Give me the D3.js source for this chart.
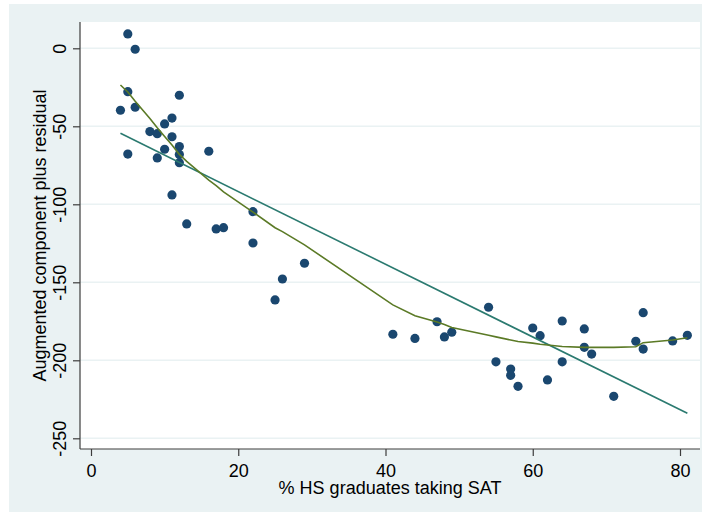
<!DOCTYPE html>
<html>
<head>
<meta charset="utf-8">
<script src="https://cdn.jsdelivr.net/npm/d3@7"></script>
<style>
  body { margin: 0; background: #ffffff; }
  svg text { font-family: "Liberation Sans", Arial, sans-serif; fill: #000; }
</style>
</head>
<body>
<div id="chart"></div>
<script>
// % HS graduates taking SAT
const pctSat = [5, 6, 5, 12, 4, 6, 11, 10, 8, 9, 11, 12, 10, 12, 5, 9, 12, 16, 11,
  22, 13, 17, 18, 22, 29, 26, 25,
  41, 44, 47, 48, 49, 54, 55, 57, 57, 58, 60, 61, 62,
  64, 64, 67, 67, 68, 71, 74, 75, 75, 79, 81];
// augmented component plus residual
const cpr = [9.2, -0.6, -27.8, -30.1, -39.7, -37.8, -44.7, -48.5, -53.4, -54.7, -56.7, -63, -64.7, -68, -67.8, -70.3, -73.3, -66, -94,
  -104.7, -112.6, -115.8, -115, -124.8, -137.8, -147.9, -161.3,
  -183.3, -186, -175.3, -185, -182, -166, -201, -205.6, -209.6, -216.7, -179.3, -184.2, -212.6,
  -174.8, -201, -179.9, -191.7, -196, -223.1, -187.8, -169.5, -192.8, -187.6, -184];

// linear fit
const fitX = [4, 81];
const fitY = [-54.5, -234];

// lowess smooth
const lowX = [4, 5, 6, 8, 9, 10, 11, 12, 13, 16, 17, 18, 22, 25, 26, 29, 41, 44, 47, 48, 49,
  54, 55, 57, 58, 60, 61, 62, 64, 67, 68, 71, 74, 75, 79, 81];
const lowY = [-23.5, -28, -34, -45, -51, -56.5, -62, -68, -72.5, -84.5, -88, -92, -105, -115, -117.5, -126,
  -164.5, -171.5, -175.5, -177, -179, -184, -185, -187, -188, -189, -189.7, -190.2, -191.2,
  -191.7, -191.7, -191.7, -191.3, -188.7, -187, -185.5];

const xTicks = [0, 20, 40, 60, 80];
const yTicks = [0, -50, -100, -150, -200, -250];

const width = 709, height = 515;
const plot = {left: 80, right: 700, top: 22, bottom: 449};

const svg = d3.select('#chart').append('svg')
  .attr('width', width)
  .attr('height', height);

// outer graph region
svg.append('rect')
  .attr('x', 9).attr('y', 4)
  .attr('width', 693).attr('height', 508)
  .attr('fill', '#eaf2f3');

// plot region
svg.append('rect')
  .attr('x', plot.left).attr('y', plot.top)
  .attr('width', plot.right - plot.left).attr('height', plot.bottom - plot.top)
  .attr('fill', '#ffffff');

const x = d3.scaleLinear().domain([0, 80]).range([91, 680]);
const y = d3.scaleLinear().domain([0, -250]).range([48.3, 438.3]);

// gridlines
svg.append('g')
  .selectAll('line')
  .data(yTicks)
  .enter()
  .append('line')
  .attr('x1', plot.left).attr('x2', plot.right)
  .attr('y1', d => y(d)).attr('y2', d => y(d))
  .attr('stroke', '#eaf2f3')
  .attr('stroke-width', 1.5);

// axes
const yAxis = svg.append('g')
  .attr('transform', 'translate(' + plot.left + ',0)')
  .call(d3.axisLeft(y).tickValues(yTicks).tickSize(7).tickPadding(0).tickFormat(d => String(d)));

yAxis.select('.domain')
  .attr('d', 'M0,' + plot.top + 'V' + plot.bottom);

yAxis.selectAll('.tick text')
  .attr('x', null).attr('dy', null)
  .attr('text-anchor', 'middle')
  .attr('transform', 'translate(-14,0) rotate(-90)')
  .style('font-size', '18px');

const xAxis = svg.append('g')
  .attr('transform', 'translate(0,' + plot.bottom + ')')
  .call(d3.axisBottom(x).tickValues(xTicks).tickSize(7).tickPadding(0));

xAxis.select('.domain')
  .attr('d', 'M' + plot.left + ',0H' + plot.right);

xAxis.selectAll('.tick text')
  .attr('y', 28).attr('dy', null)
  .style('font-size', '18px');

svg.selectAll('.domain, .tick line')
  .attr('stroke', '#3c3c3c')
  .attr('stroke-width', 1.2);

// axis titles
svg.append('text')
  .attr('x', (plot.left + plot.right) / 2)
  .attr('y', 494)
  .attr('text-anchor', 'middle')
  .style('font-size', '18px')
  .text('% HS graduates taking SAT');

svg.append('text')
  .attr('transform', 'translate(46,' + ((plot.top + plot.bottom) / 2) + ') rotate(-90)')
  .attr('text-anchor', 'middle')
  .style('font-size', '18px')
  .text('Augmented component plus residual');

// points
svg.append('g')
  .selectAll('circle')
  .data(pctSat)
  .enter()
  .append('circle')
  .attr('cx', d => x(d))
  .attr('cy', (d, i) => y(cpr[i]))
  .attr('r', 4.6)
  .attr('fill', '#1a476f');

const line = d3.line()
  .x(d => x(d[0]))
  .y(d => y(d[1]));

svg.append('path')
  .datum(fitX.map((d, i) => [d, fitY[i]]))
  .attr('fill', 'none')
  .attr('stroke', '#2b7a70')
  .attr('stroke-width', 1.6)
  .attr('d', line);

svg.append('path')
  .datum(lowX.map((d, i) => [d, lowY[i]]))
  .attr('fill', 'none')
  .attr('stroke', '#5b7a26')
  .attr('stroke-width', 1.6)
  .attr('d', line);
</script>
</body>
</html>
